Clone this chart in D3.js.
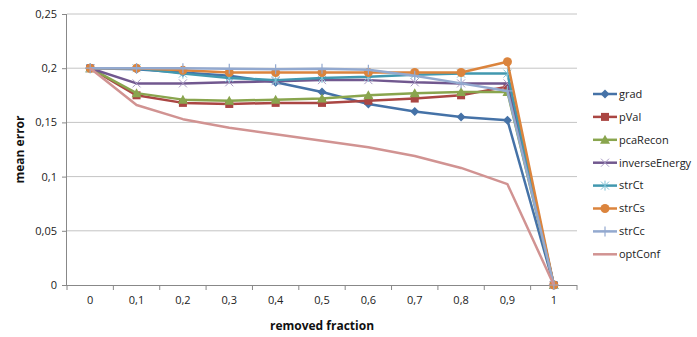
<!DOCTYPE html>
<html><head><meta charset="utf-8">
<script src="https://cdn.jsdelivr.net/npm/d3@7"></script>
<style>body{margin:0;background:#fff}svg{display:block}text{font-family:"Open Sans","Noto Sans",sans-serif}</style>
</head><body><svg id="c" width="697" height="337"></svg>
<script>
const categories = ["0","0,1","0,2","0,3","0,4","0,5","0,6","0,7","0,8","0,9","1"];
const yTicks = [0,0.05,0.1,0.15,0.2,0.25];
const yTickLabels = ["0","0,05","0,1","0,15","0,2","0,25"];
const seriesNames = ["grad","pVal","pcaRecon","inverseEnergy","strCt","strCs","strCc","optConf"];
const grad          = [0.2,0.199,0.196,0.193,0.187,0.178,0.167,0.160,0.155,0.152,0];
const pVal          = [0.2,0.175,0.168,0.167,0.168,0.168,0.170,0.172,0.175,0.183,0];
const pcaRecon      = [0.2,0.177,0.171,0.170,0.171,0.172,0.175,0.177,0.178,0.178,0];
const inverseEnergy = [0.2,0.186,0.186,0.187,0.188,0.189,0.189,0.187,0.186,0.186,0];
const strCt         = [0.2,0.200,0.195,0.191,0.189,0.191,0.192,0.194,0.195,0.195,0];
const strCs         = [0.2,0.200,0.198,0.196,0.196,0.196,0.196,0.196,0.196,0.206,0];
const strCc         = [0.2,0.200,0.200,0.1995,0.199,0.1995,0.1985,0.193,0.186,0.179,0];
const optConf       = [0.2,0.166,0.153,0.145,0.139,0.133,0.127,0.119,0.108,0.093,0];
const seriesValues = [grad,pVal,pcaRecon,inverseEnergy,strCt,strCs,strCc,optConf];
const colors = ["#4572A7","#AA4643","#89A54E","#71588F","#4198AF","#DB843D","#93A9CF","#D19392"];
const markerColors = ["#4572A7","#AA4643","#89A54E","#A99BC4","#7FC3D6","#DB843D","#93A9CF","#D19392"];
const markers = ["diamond","square","triangle","x","asterisk","circle","plus","none"];

const svg = d3.select("#c");
const L=67,R=577,T=14,B=285;
const x = d3.scaleBand().domain(categories).range([L,R]);
const y = d3.scaleLinear().domain([0,0.25]).range([B,T]);

svg.append("g").selectAll("line").data(yTicks.filter(d=>d>0)).join("line")
  .attr("x1",L).attr("x2",R).attr("y1",d=>y(d)).attr("y2",d=>y(d))
  .attr("stroke","#c4c4c4").attr("stroke-width",1);

const ya = svg.append("g").attr("transform",`translate(${L},0)`)
  .call(d3.axisLeft(y).tickValues(yTicks).tickFormat((d,i)=>yTickLabels[i]).tickSize(5).tickPadding(5));
ya.select(".domain").attr("stroke","#888").attr("d",`M-0.5,${T}V${B}`);
ya.selectAll(".tick line").attr("stroke","#888");
ya.selectAll("text").attr("font-size",11).attr("fill","#222");

const xa = svg.append("g").attr("transform",`translate(0,${B})`)
  .call(d3.axisBottom(x).tickSize(0).tickPadding(11));
xa.select(".domain").attr("stroke","#888").attr("d",`M${L},0.5H${R}`);
xa.selectAll("text").attr("font-size",11).attr("fill","#222");
xa.selectAll("line.b").data(d3.range(categories.length+1)).join("line").attr("class","b")
  .attr("x1",i=>L+i*x.bandwidth()).attr("x2",i=>L+i*x.bandwidth())
  .attr("y1",0).attr("y2",5).attr("stroke","#888");

svg.append("text").attr("x",(L+R)/2).attr("y",330).attr("text-anchor","middle")
  .attr("font-size",12).attr("font-weight","bold").attr("fill","#111").text("removed fraction");
svg.append("text").attr("transform",`translate(24,${(T+B)/2}) rotate(-90)`).attr("text-anchor","middle")
  .attr("font-size",12).attr("font-weight","bold").attr("fill","#111").text("mean error");

function drawMarker(g,type,color,cx,cy){
  const s=4;
  if(type==="diamond") g.append("path").attr("d",`M${cx},${cy-s-0.5}L${cx+s+0.5},${cy}L${cx},${cy+s+0.5}L${cx-s-0.5},${cy}Z`).attr("fill",color);
  else if(type==="square") g.append("rect").attr("x",cx-s).attr("y",cy-s).attr("width",2*s).attr("height",2*s).attr("fill",color);
  else if(type==="triangle") g.append("path").attr("d",`M${cx},${cy-s-1}L${cx+s+1},${cy+s}L${cx-s-1},${cy+s}Z`).attr("fill",color);
  else if(type==="circle") g.append("circle").attr("cx",cx).attr("cy",cy).attr("r",s+0.5).attr("fill",color);
  else if(type==="x") g.append("path").attr("d",`M${cx-s},${cy-s}L${cx+s},${cy+s}M${cx-s},${cy+s}L${cx+s},${cy-s}`).attr("stroke",color).attr("stroke-width",1).attr("fill","none");
  else if(type==="asterisk") g.append("path").attr("d",`M${cx-s},${cy-s}L${cx+s},${cy+s}M${cx-s},${cy+s}L${cx+s},${cy-s}M${cx},${cy-s-1}L${cx},${cy+s+1}`).attr("stroke",color).attr("stroke-width",1).attr("fill","none");
  else if(type==="plus") g.append("path").attr("d",`M${cx-s-1},${cy}L${cx+s+1},${cy}M${cx},${cy-s-1}L${cx},${cy+s+1}`).attr("stroke",color).attr("stroke-width",1.2).attr("fill","none");
}

const line = d3.line().x((d,i)=>x(categories[i])+x.bandwidth()/2).y(d=>y(d));
seriesValues.forEach((vals,si)=>{
  const g = svg.append("g");
  g.append("path").datum(vals).attr("d",line).attr("fill","none")
    .attr("stroke",colors[si]).attr("stroke-width",2.5).attr("stroke-linejoin","round");
  vals.forEach((v,i)=>drawMarker(g,markers[si],markerColors[si],x(categories[i])+x.bandwidth()/2,y(v)));
});

const lg = svg.append("g");
seriesNames.forEach((n,i)=>{
  const yy = 94 + i*22.9;
  const g = lg.append("g");
  g.append("line").attr("x1",593).attr("x2",617).attr("y1",yy).attr("y2",yy).attr("stroke",colors[i]).attr("stroke-width",2.5);
  drawMarker(g,markers[i],markerColors[i],605,yy);
  g.append("text").attr("x",619).attr("y",yy).attr("dy","0.35em").attr("font-size",11).attr("fill","#222").text(n);
});
</script></body></html>
